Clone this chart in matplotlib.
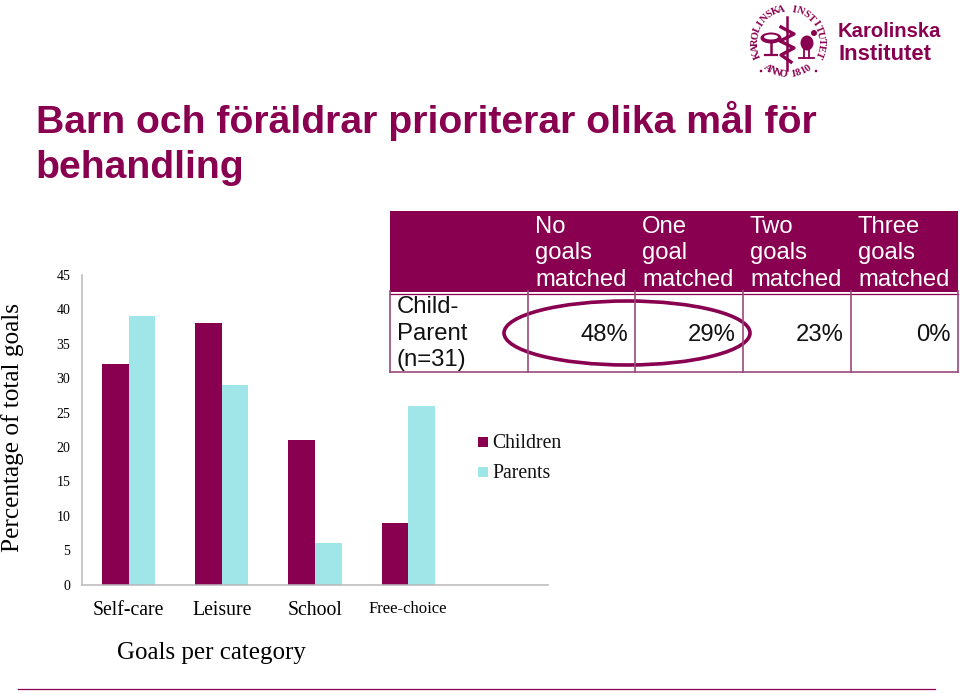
"""Barn och foraldrar slide: grouped bars, match table and logo."""
import math

import matplotlib
matplotlib.use("Agg")
import matplotlib.pyplot as plt
from matplotlib.patches import Circle, Ellipse, Rectangle

PLUM = "#8a0050"
AQUA = "#a0e6e9"
SANS = "Liberation Sans"
SERIF = "Liberation Serif"

categories = ["Self-care", "Leisure", "School", "Free-choice"]
children = [32, 38, 21, 9]
parents = [39, 29, 6, 26]
y_ticks = [0, 5, 10, 15, 20, 25, 30, 35, 40, 45]

table_head = ["No\ngoals\nmatched", "One\ngoal\nmatched", "Two\ngoals\nmatched", "Three\ngoals\nmatched"]
table_row = "Child-\nParent\n(n=31)"
table_vals = ["48%", "29%", "23%", "0%"]

W, H = 960, 694
fig = plt.figure(figsize=(W / 100, H / 100), dpi=100, facecolor="white")

# overlay in pixel coordinates for the slide furniture
bg = fig.add_axes([0, 0, 1, 1])
bg.set_xlim(0, W)
bg.set_ylim(H, 0)
bg.axis("off")

# chart
ax = fig.add_axes([82 / W, 1 - 584.5 / H, 466 / W, 309.5 / H])
ax.patch.set_alpha(0)
bar_w = 0.285
xs = list(range(len(categories)))
ax.bar([x - bar_w / 2 for x in xs], children, bar_w, color=PLUM, label="Children")
ax.bar([x + bar_w / 2 for x in xs], parents, bar_w, color=AQUA, label="Parents")
ax.set_xlim(-0.5, 4.5)
ax.set_ylim(0, 45)
ax.set_yticks(y_ticks)
ax.set_xticks(xs)
ax.set_xticklabels(categories, family=SERIF, fontsize=14.2)
ax.get_xticklabels()[3].set_fontsize(12)
for lab in ax.get_yticklabels():
    lab.set_family(SERIF)
    lab.set_fontsize(10)
ax.tick_params(axis="both", length=0)
ax.tick_params(axis="x", pad=12)
ax.tick_params(axis="y", pad=8.5)
for side in ["top", "right"]:
    ax.spines[side].set_visible(False)
for side in ["left", "bottom"]:
    ax.spines[side].set_color("#b8b8b8")
    ax.spines[side].set_linewidth(1.1)

# legend by hand, it sits next to the plot
for i, (name, col) in enumerate([("Children", PLUM), ("Parents", AQUA)]):
    y = 442 + i * 30
    bg.add_patch(Rectangle((478, y - 5), 10, 10, color=col, lw=0))
    bg.text(492, y + 1, name, family=SERIF, fontsize=14.2, va="center", color="#111111")

bg.text(13, 427, "Percentage of total goals", family=SERIF, fontsize=18.2,
        rotation=90, ha="center", va="center", color="black")
bg.text(117, 653, "Goals per category", family=SERIF, fontsize=18, va="center", color="black")

# title
bg.text(36, 121, "Barn och föräldrar prioriterar olika mål för", family=SANS,
        fontweight="bold", fontsize=28.2, color=PLUM, va="center")
bg.text(35, 168, "behandling", family=SANS, fontweight="bold", fontsize=28.2,
        color=PLUM, va="center")

# table
cols = [390, 528, 635, 743, 851, 958]
bg.add_patch(Rectangle((cols[0], 210.5), cols[-1] - cols[0], 81, color=PLUM, lw=0))
bg.plot([cols[0], cols[-1]], [293.5, 293.5], color=PLUM, lw=0.9)
bg.plot([cols[0], cols[-1]], [372, 372], color="#9a4a7c", lw=1.2)
for cx in cols:
    bg.plot([cx, cx], [291, 372], color="#9a4a7c", lw=1.2)
for i, head in enumerate(table_head):
    for j, line in enumerate(head.split("\n")):
        bg.text(cols[i + 1] + 7, 226.5 + j * 26.5, line, family=SANS, fontsize=17.2,
                color="white", va="center")
    bg.text(cols[i + 2] - 7, 334.5, table_vals[i], family=SANS, fontsize=17.2,
            color="#111111", ha="right", va="center")
for j, line in enumerate(table_row.split("\n")):
    bg.text(397, 307 + j * 26.5, line, family=SANS, fontsize=17.2, color="#111111", va="center")
bg.add_patch(Ellipse((627, 333), 246, 64, fill=False, ec=PLUM, lw=2.6))

# footer rule
bg.plot([18, 935], [689, 689], color=PLUM, lw=0.9)

# logo: seal
cx, cy = 788, 42
seal_top = "KAROLINSKA INSTITUTET"
seal_bot = "ANNO 1810"
for i, ch in enumerate(seal_top):
    a = math.radians(-112 + i * 224 / (len(seal_top) - 1))
    bg.text(cx + 33 * math.sin(a), cy - 33 * math.cos(a), ch, family=SERIF, fontsize=7.6,
            fontweight="bold", color=PLUM, ha="center", va="center", rotation=-math.degrees(a))
for i, ch in enumerate(seal_bot):
    a = math.radians(-38 + i * 76 / (len(seal_bot) - 1))
    bg.text(cx + 33 * math.sin(a), cy + 33 * math.cos(a), ch, family=SERIF, fontsize=7.6,
            fontweight="bold", color=PLUM, ha="center", va="center", rotation=math.degrees(a))
bg.add_patch(Circle((761, 71), 1.3, color=PLUM, lw=0))
bg.add_patch(Circle((816, 71), 1.3, color=PLUM, lw=0))
bg.plot([787, 787], [17, 70], color=PLUM, lw=1.8)
bg.plot([781, 794, 780, 794, 781, 791], [27, 34, 41, 48, 55, 62], color=PLUM, lw=2.4)
# bowl
bg.add_patch(Ellipse((771, 38), 21, 11, color=PLUM, lw=0))
bg.add_patch(Ellipse((771, 37), 14, 5, color="white", lw=0))
bg.plot([771, 771], [42, 54], color=PLUM, lw=1.8)
bg.plot([765, 777], [55, 55], color=PLUM, lw=1.6)
# rooster
bg.add_patch(Ellipse((807, 43), 13, 15, color=PLUM, lw=0))
bg.add_patch(Circle((814, 33), 3, color=PLUM, lw=0))
bg.plot([804, 804], [49, 58], color=PLUM, lw=1.3)
bg.plot([809, 809], [49, 58], color=PLUM, lw=1.3)
bg.plot([799, 814], [58, 58], color=PLUM, lw=1.3)

# logo: wordmark
bg.text(838, 31, "Karolinska", family=SANS, fontweight="bold", fontsize=14.6,
        color=PLUM, va="center")
bg.text(838, 54, "Institutet", family=SANS, fontweight="bold", fontsize=15.8,
        color=PLUM, va="center")

fig.savefig("out.png", dpi=100, facecolor="white")
